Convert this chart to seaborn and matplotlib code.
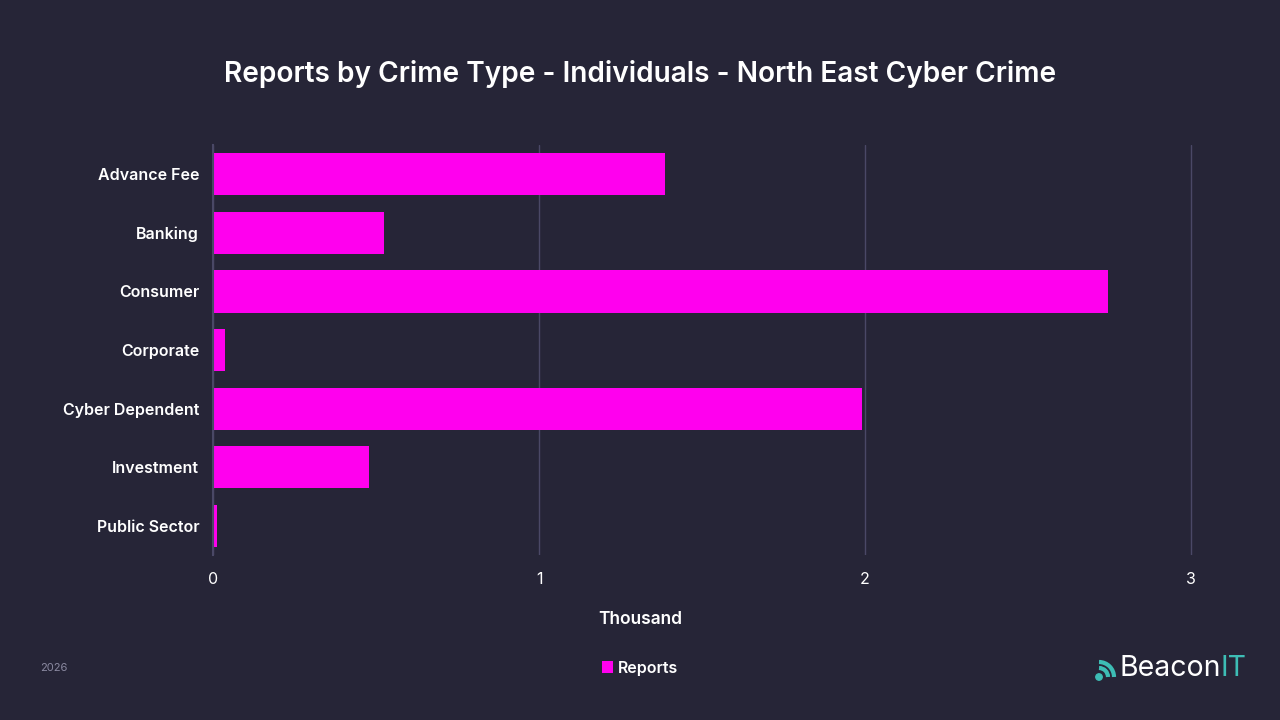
import numpy as np
import pandas as pd
import matplotlib
matplotlib.use("Agg")
import matplotlib.pyplot as plt
from matplotlib.patches import Arc, Circle
import seaborn as sns

# dados do gráfico
categories = ["Advance Fee", "Banking", "Consumer", "Corporate",
              "Cyber Dependent", "Investment", "Public Sector"]
reports = [1.387, 0.523, 2.744, 0.035, 1.990, 0.477, 0.011]  # em milhares
x_ticks = [0, 1, 2, 3]

BG = "#262537"
BAR = "#ff00ee"
GRID = "#4a4866"
TEAL = "#3dbdb5"

df = pd.DataFrame({"Crime Type": categories, "Reports": reports})

sns.set_theme(style="dark")
plt.rcParams["font.family"] = ["Inter", "DejaVu Sans"]

fig = plt.figure(figsize=(12.8, 7.2), dpi=100, facecolor=BG)
# eixo um pouco além de 3 para a última linha de grade aparecer inteira
ax = fig.add_axes([0.1665, 0.229, 0.7665, 0.5696])
ax.set_facecolor(BG)

sns.barplot(data=df, y="Crime Type", x="Reports", color=BAR, saturation=1,
            width=0.72, linewidth=0, ax=ax, label="Reports", legend=False)

ax.set_xlim(0, 3.01)
ax.set_xticks(x_ticks)
ax.set_xticklabels([str(t) for t in x_ticks], color="white", fontsize=11.5)
ax.tick_params(axis="x", length=0, pad=12)
ax.tick_params(axis="y", length=0, pad=10)
for lbl in ax.get_yticklabels():
    lbl.set_color("white")
    lbl.set_fontsize(11.5)
    lbl.set_fontweight("semibold")
ax.xaxis.grid(True, color=GRID, linewidth=1)
ax.yaxis.grid(False)
for side in ["top", "right", "bottom"]:
    ax.spines[side].set_visible(False)
ax.spines["left"].set_color(GRID)
ax.spines["left"].set_linewidth(1.5)
ax.set_ylabel("")
ax.set_xlabel("")

fig.text(0.5, 0.139, "Thousand", ha="center", va="center", color="white",
         fontsize=12.5, fontweight="semibold")

fig.text(0.5, 0.897, "Reports by Crime Type - Individuals - North East Cyber Crime",
         ha="center", va="center", color="white", fontsize=20.2, fontweight="semibold")

# legenda
handles, labels = ax.get_legend_handles_labels()
leg = fig.legend(handles, labels, loc="center", bbox_to_anchor=(0.5, 0.072), frameon=False,
                 handlelength=0.7, handleheight=0.7, handletextpad=0.3,
                 prop={"size": 11.5, "weight": "semibold"})
for t in leg.get_texts():
    t.set_color("white")

fig.text(0.031, 0.072, "2026", color="#8a89a0", fontsize=8, va="center")

# logo BeaconIT
t1 = fig.text(1119 / 1280, 0.072, "Beacon", color="white", fontsize=20.5, va="center", ha="left")
fig.canvas.draw()
bb = t1.get_window_extent()
fig.text(bb.x1 / 1280, 0.072, "IT", color=TEAL, fontsize=20.5, va="center", ha="left")
cx, cy = 1099, 43
fig.patches.append(Circle((cx, cy), 3.2, transform=None, color=TEAL))
for r in [9, 15]:
    fig.patches.append(Arc((cx, cy), 2 * r, 2 * r, theta1=0, theta2=90,
                           transform=None, color=TEAL, linewidth=3))

fig.savefig("out.png", dpi=100, facecolor=BG)
